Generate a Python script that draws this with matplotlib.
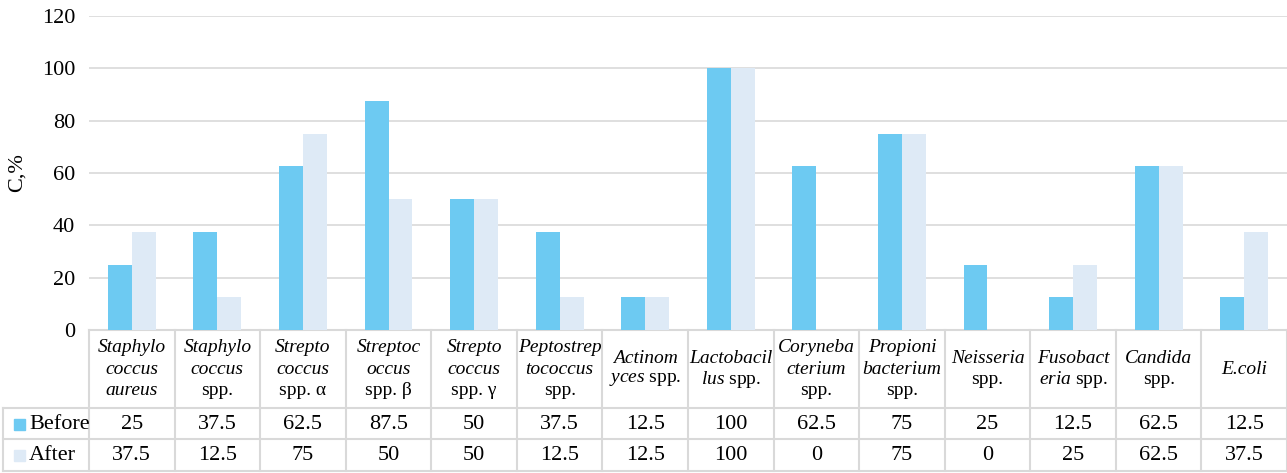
import numpy as np
import matplotlib.pyplot as plt
import matplotlib.transforms as mtransforms
from matplotlib.patches import Rectangle

plt.rcParams['font.family'] = ['Liberation Serif', 'DejaVu Serif']
plt.rcParams['mathtext.fontset'] = 'custom'
plt.rcParams['mathtext.rm'] = 'Liberation Serif'
plt.rcParams['mathtext.it'] = 'Liberation Serif:italic'

# header lines of each column as (italic part, upright part)
headers = [
    [('Staphylo', ''), ('coccus', ''), ('aureus', '')],
    [('Staphylo', ''), ('coccus', ''), ('', 'spp.')],
    [('Strepto', ''), ('coccus', ''), ('', 'spp. α')],
    [('Streptoc', ''), ('occus', ''), ('', 'spp. β')],
    [('Strepto', ''), ('coccus', ''), ('', 'spp. γ')],
    [('Peptostrep', ''), ('tococcus', ''), ('', 'spp.')],
    [('Actinom', ''), ('yces', 'spp.')],
    [('Lactobacil', ''), ('lus', 'spp.')],
    [('Coryneba', ''), ('cterium', ''), ('', 'spp.')],
    [('Propioni', ''), ('bacterium', ''), ('', 'spp.')],
    [('Neisseria', ''), ('', 'spp.')],
    [('Fusobact', ''), ('eria', 'spp.')],
    [('Candida', ''), ('', 'spp.')],
    [('E.coli', '')],
]
before = [25, 37.5, 62.5, 87.5, 50, 37.5, 12.5, 100, 62.5, 75, 25, 12.5, 62.5, 12.5]
after = [37.5, 12.5, 75, 50, 50, 12.5, 12.5, 100, 0, 75, 0, 25, 62.5, 37.5]
series_names = ['Before', 'After']
yticks = [0, 20, 40, 60, 80, 100, 120]

c_before = '#6DCAF2'
c_after = '#DEEAF6'
c_grid = '#D9D9D9'

W, H = 1287, 473
fig = plt.figure(figsize=(W / 100, H / 100), dpi=100)
L, R, T, B = 89, 1287, 16, 330
ax = fig.add_axes([L / W, 1 - B / H, (R - L) / W, (B - T) / H])

n = len(before)
x = np.arange(n)
bw = 0.28
ax.bar(x - bw / 2, before, bw, color=c_before, zorder=3)
ax.bar(x + bw / 2, after, bw, color=c_after, zorder=3)

ax.set_xlim(-0.5, n - 0.5)
ax.set_ylim(0, 120)
ax.set_yticks(yticks)
ax.set_xticks([])
ax.tick_params(axis='y', length=0, pad=10, labelsize=16)
ax.grid(axis='y', color=c_grid, lw=1.2, zorder=0)
for s in ['top', 'right', 'left']:
    ax.spines[s].set_visible(False)
ax.spines['bottom'].set_color(c_grid)
ax.spines['bottom'].set_linewidth(1.5)
ax.set_ylabel('C,%', fontsize=16)
ax.yaxis.set_label_coords(-0.052, 0.5)

# data table under the axis: x in data units, y in axes fraction
trans = mtransforms.blended_transform_factory(ax.transData, ax.transAxes)
cw = (R - L) / n


def xd(px):
    return -0.5 + (px - L) / cw


def ya(py):
    return (B - py) / (B - T)


y_head, y_r1, y_r2 = ya(407.5), ya(439), ya(471)
x_left = xd(3)
line_kw = dict(color=c_grid, lw=1.5, transform=trans, clip_on=False)

ax.plot([x_left, n - 0.5], [y_head, y_head], **line_kw)
ax.plot([x_left, n - 0.5], [y_r1, y_r1], **line_kw)
ax.plot([x_left, n - 0.5], [y_r2, y_r2], **line_kw)
ax.plot([x_left, x_left], [y_head, y_r2], **line_kw)
for b in np.arange(-0.5, n, 1.0):
    ax.plot([b, b], [0, y_r2], **line_kw)

lh = 21.5 / (B - T)
y_mid = ya(369)
for i, lines in enumerate(headers):
    k = len(lines)
    for j, (it, rm) in enumerate(lines):
        yy = y_mid + ((k - 1) / 2 - j) * lh
        if it and rm:
            s, style = r'$\mathit{%s}\ \mathrm{%s}$' % (it, rm), 'normal'
        elif it:
            s, style = it, 'italic'
        else:
            s, style = rm, 'normal'
        ax.text(i, yy, s, transform=trans, ha='center', va='center',
                fontsize=14, fontstyle=style, clip_on=False)

row_y = [ya(424), ya(455.5)]
for vals, yy in zip([before, after], row_y):
    for i, v in enumerate(vals):
        ax.text(i, yy, f'{v:g}', transform=trans, ha='center', va='center',
                fontsize=16, clip_on=False)

# series keys in the left column, names cut at the column border
clip_rect = Rectangle((0, 0), L / W, 1, transform=fig.transFigure)
for name, col, yy in zip(series_names, [c_before, c_after], row_y):
    ax.add_patch(Rectangle((xd(14), yy - 5.5 / (B - T)), 11 / cw, 11 / (B - T),
                           color=col, transform=trans, clip_on=False))
    t = ax.text(xd(29), yy, name, transform=trans, ha='left', va='center',
                fontsize=16)
    t.set_clip_path(clip_rect)

fig.savefig('out.png', dpi=100)
